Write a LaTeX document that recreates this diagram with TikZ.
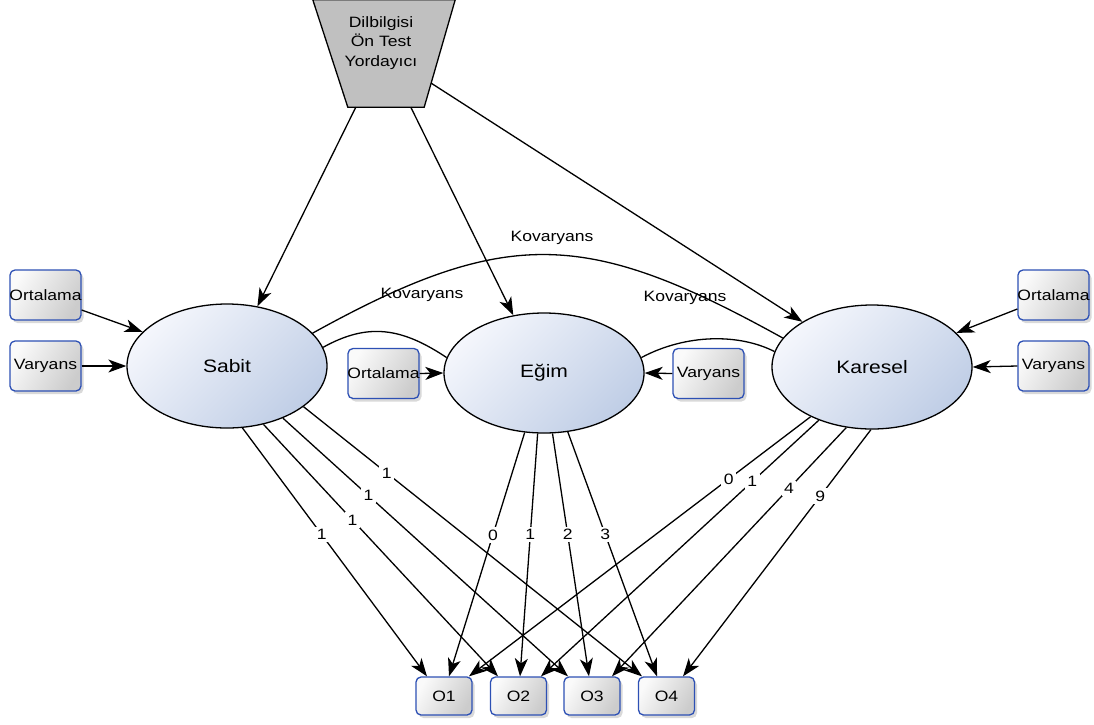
\documentclass[tikz,border=0pt]{standalone}
\usepackage{fontspec}
\setmainfont{Liberation Sans}[FakeStretch=1.17]
\usetikzlibrary{shapes.geometric,arrows.meta,shadows,calc}

\definecolor{boxblue}{RGB}{45,80,180}
\definecolor{elllight}{RGB}{244,246,252}
\definecolor{elldark}{RGB}{192,206,230}
\definecolor{trapgray}{RGB}{192,192,192}

\tikzset{
  conn/.style={line width=1.3pt, -{Stealth[length=18pt,width=13pt,inset=5pt]}},
  cov/.style={line width=1.3pt},
  latent/.style={ellipse, draw, line width=1.3pt, minimum width=200pt, minimum height=124pt,
    inner sep=0pt, left color=elllight, right color=elldark, shading angle=45,
    font=\fontsize{18}{20}\selectfont},
  obsbox/.style={rounded corners=5pt, draw=boxblue, line width=1.3pt,
    left color=gray!4, right color=gray!40, shading angle=60,
    drop shadow={shadow xshift=2.5pt,shadow yshift=-3pt,opacity=0.3},
    inner sep=0pt, font=\fontsize{15}{17}\selectfont},
  parbox/.style={obsbox, minimum width=71pt, minimum height=50pt},
  outbox/.style={obsbox, minimum width=56pt, minimum height=38pt},
  lab/.style={font=\fontsize{15}{17}\selectfont, fill=white, inner sep=2.5pt},
  covlab/.style={font=\fontsize{15}{17}\selectfont, inner sep=0pt},
}

\begin{document}
\begin{tikzpicture}[x=1pt,y=-1pt]
\useasboundingbox (0,0) rectangle (1094,724);

% predictor trapezoid
\node[minimum width=142pt, minimum height=107pt, inner sep=0pt] (pred) at (384,53.5) {};
\coordinate (prb) at ([xshift=-31pt]pred.south east);
\coordinate (plb) at ([xshift=35pt]pred.south west);
\draw[line width=1.3pt, fill=trapgray] (pred.north west) -- (pred.north east) -- (prb) -- (plb) -- cycle;
\node[font=\fontsize{15}{19.5}\selectfont, align=center, inner sep=0pt] (predtxt) at (381,43) {Dilbilgisi\\Ön Test\\Yordayıcı};

% latent factors
\node[latent] (sabit) at (227,366) {Sabit};
\node[latent, minimum height=120pt] (egim) at (544,373) {Eğim};
\node[latent] (karesel) at (872,367) {Karesel};

% parameter boxes
\node[parbox] (ortL) at (45.5,295) {\makebox[0pt]{Ortalama}};
\node[parbox] (varL) at (45.5,366) {Varyans};
\node[parbox] (ortM) at (383.5,373.5) {\makebox[0pt]{Ortalama}};
\node[parbox] (varM) at (708.5,373.5) {Varyans};
\node[parbox] (ortR) at (1053.5,295) {\makebox[0pt]{Ortalama}};
\node[parbox] (varR) at (1053.5,366) {Varyans};

% observed
\node[outbox] (o1) at (444,696) {O1};
\node[outbox] (o2) at (518.5,696) {O2};
\node[outbox] (o3) at (592,696) {O3};
\node[outbox] (o4) at (666.5,696) {O4};

% predictor arrows
\draw[conn] ([xshift=43pt]pred.south west) -- (sabit.63);
\draw[conn] ([xshift=98pt]pred.south west) -- (egim.118);
\draw[conn] ($(pred.north east)!0.776!(prb)$) -- (karesel.147);

% parameter arrows
\draw[conn] ([yshift=-15pt]ortL.east) -- (sabit.158);
\draw[conn] (varL.east) -- (sabit.west);
\draw[conn] (ortM.east) -- (egim.west);
\draw[conn] (varM.west) -- (egim.east);
\draw[conn] ([yshift=-14pt]ortR.west) -- (karesel.22);
\draw[conn] (varR.west) -- (karesel.east);

% covariances
\draw[cov] (sabit.21) .. controls +(195,-108) and +(-195,-108) .. (karesel.162);
\draw[cov] (sabit.11) .. controls +(45,-25) and +(-45,-30) .. (egim.171);
\draw[cov] (egim.9) .. controls +(45,-24) and +(-35,-18) .. (karesel.171);
\node[covlab] (kov1) at (552,238) {Kovaryans};
\node[covlab] (kov2) at (422,295) {Kovaryans};
\node[covlab] (kov3) at (685,298) {Kovaryans};

% loadings: Sabit
\draw[conn] (sabit.-76) -- node[lab,pos=0.43]{1} ([xshift=-17pt]o1.north);
\draw[conn] (sabit.-58) -- node[lab,pos=0.38]{1} ([xshift=-20.5pt]o2.north);
\draw[conn] (sabit.-43) -- node[lab,pos=0.30]{1} ([xshift=-24pt]o3.north);
\draw[conn] (sabit.-28) -- node[lab,pos=0.246]{1} ([xshift=-24.5pt]o4.north);

% loadings: Egim
\draw[conn] (egim.-108) -- node[lab,pos=0.42]{0} ([xshift=5pt]o1.north);
\draw[conn] (egim.-96) -- node[lab,pos=0.415]{1} ([xshift=1.5pt]o2.north);
\draw[conn] (egim.-82) -- node[lab,pos=0.415]{2} ([xshift=-3pt]o3.north);
\draw[conn] (egim.-68) -- node[lab,pos=0.42]{3} ([xshift=-9.5pt]o4.north);

% loadings: Karesel
\draw[conn] (karesel.-141) -- node[lab,pos=0.24]{0} ([xshift=25pt]o1.north);
\draw[conn] (karesel.-135.5) -- node[lab,pos=0.24]{1} ([xshift=22.5pt]o2.north);
\draw[conn] (karesel.-113) -- node[lab,pos=0.245]{4} ([xshift=20pt]o3.north);
\draw[conn] (karesel.-91) -- node[lab,pos=0.27]{9} ([xshift=16.5pt]o4.north);
\end{tikzpicture}
\end{document}
